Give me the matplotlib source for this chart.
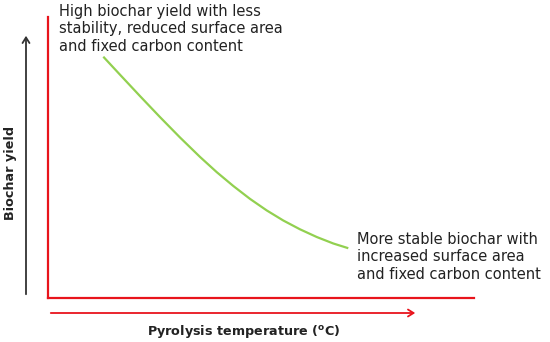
import matplotlib
matplotlib.use("Agg")
import matplotlib.pyplot as plt

# Schematic trend: biochar yield vs pyrolysis temperature (arbitrary units, 0-100)
temperature = [12.98, 16.90, 21.60, 26.29, 30.99, 35.68, 39.60, 43.50,
               47.42, 51.34, 55.23, 59.15, 63.08, 66.97, 70.49]
biochar_yield = [85.87, 79.47, 71.85, 64.38, 57.12, 50.21, 44.80, 39.86,
                 35.27, 31.17, 27.58, 24.45, 21.71, 19.40, 17.72]

top_note = "High biochar yield with less\nstability, reduced surface area\nand fixed carbon content"
bottom_note = "More stable biochar with\nincreased surface area\nand fixed carbon content"
x_label = "Pyrolysis temperature ($^{\\mathregular{o}}$C)"
y_label = "Biochar yield"

red = "#e8141c"
green = "#92d050"

plt.rcParams["font.family"] = ["DejaVu Sans"]

fig = plt.figure(figsize=(5.5, 3.42), dpi=100)
W, H = 550, 342

# main axes: red spines left and bottom
ax = fig.add_axes([48 / W, 1 - 298 / H, (474 - 48) / W, (298 - 17) / H])
ax.set_xlim(0, 100)
ax.set_ylim(0, 100)
ax.plot(temperature, biochar_yield, color=green, linewidth=1.6,
        solid_capstyle="butt", solid_joinstyle="round")
for side in ["top", "right"]:
    ax.spines[side].set_visible(False)
for side in ["left", "bottom"]:
    ax.spines[side].set_color(red)
    ax.spines[side].set_linewidth(1.6)
ax.set_xticks([])
ax.set_yticks([])
ax.patch.set_alpha(0)

# annotation texts
fig.text(59 / W, 1 - 4 / H, top_note, ha="left", va="top", fontsize=10.5,
         color="#222222", linespacing=1.2)
fig.text(357 / W, 1 - 232 / H, bottom_note, ha="left", va="top", fontsize=10.5,
         color="#222222", linespacing=1.2)

# direction arrows outside the axes
fig.patches.append(matplotlib.patches.FancyArrowPatch(
    (26 / W, 1 - 297 / H), (26 / W, 1 - 33 / H), transform=fig.transFigure,
    arrowstyle="->,head_length=4,head_width=2.5", color="#333333", linewidth=1.3))
fig.patches.append(matplotlib.patches.FancyArrowPatch(
    (48 / W, 1 - 313 / H), (418 / W, 1 - 313 / H), transform=fig.transFigure,
    arrowstyle="->,head_length=4,head_width=2.5", color=red, linewidth=1.3))

fig.text(244 / W, 1 - 331 / H, x_label, ha="center", va="center",
         fontsize=9.2, fontweight="bold", color="#222222")
fig.text(11 / W, 1 - 173 / H, y_label, ha="center", va="center", rotation=90,
         fontsize=9.2, fontweight="bold", color="#222222")

fig.savefig("out.png", dpi=100, facecolor="white")
